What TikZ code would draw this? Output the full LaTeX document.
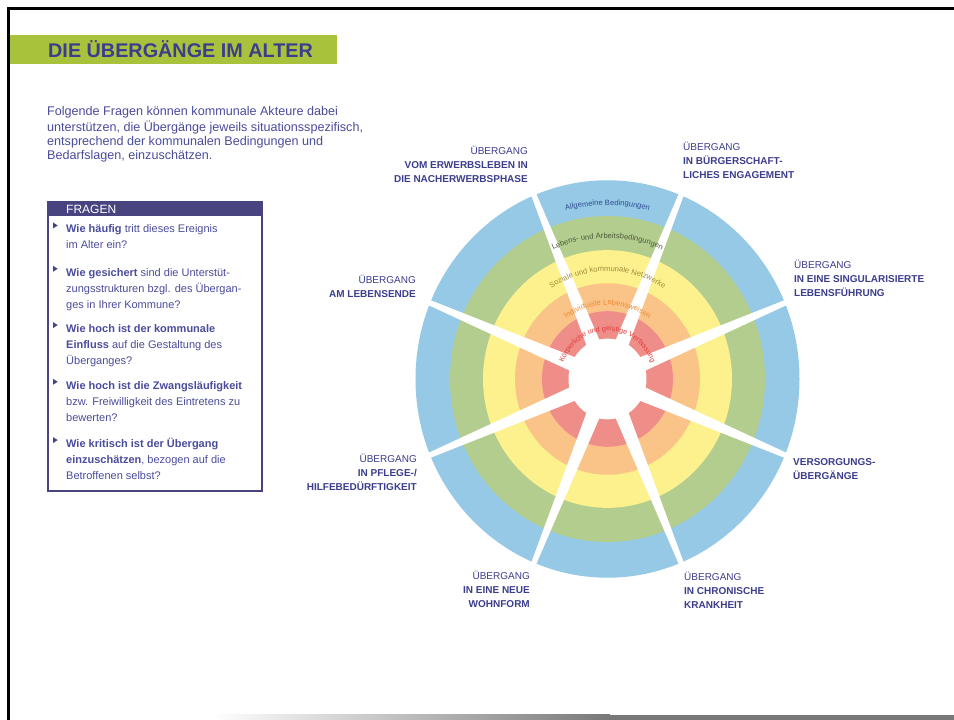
\documentclass[tikz,border=0pt]{standalone}
\usepackage{fontspec}
\setmainfont{Liberation Sans}
\usetikzlibrary{decorations.text}
\definecolor{ringblue}{HTML}{95C9E6}
\definecolor{ringgreen}{HTML}{B2CD8E}
\definecolor{ringyellow}{HTML}{FDF18D}
\definecolor{ringorange}{HTML}{FAC488}
\definecolor{ringred}{HTML}{EF8E88}
\definecolor{navy}{HTML}{3C3D8C}
\definecolor{bodyblue}{HTML}{4A4C9C}
\definecolor{boxpurple}{HTML}{48447F}
\definecolor{titlegreen}{HTML}{A9C23C}
\definecolor{tAllg}{HTML}{2F4B92}
\definecolor{tLeb}{HTML}{4F5A3A}
\definecolor{tSoz}{HTML}{A08C3A}
\definecolor{tInd}{HTML}{EE8A32}
\definecolor{tKoe}{HTML}{E03A3C}
\definecolor{bargray}{HTML}{787878}
\begin{document}
\begin{tikzpicture}[x=1pt,y=1pt,
  lblL/.style={anchor=north east, align=right, inner sep=0pt, text=navy, font=\fontsize{10}{14}\selectfont},
  lblR/.style={anchor=north west, align=left, inner sep=0pt, text=navy, font=\fontsize{10}{14}\selectfont},
  qitem/.style={anchor=north west, align=left, inner sep=0pt, text=bodyblue, font=\fontsize{11}{16}\selectfont},
  bullet/.style={fill=boxpurple},
  arctext/.style={decorate, decoration={text along path, text align=center, text={#1}}}]
\useasboundingbox (0,0) rectangle (954,720);
\fill[white] (0,0) rectangle (954,720);
% frame and bottom bar
\draw[line width=2.7pt] (954,711.3) -- (8.7,711.3) -- (8.7,0);
\shade[left color=white, right color=bargray] (213,0) rectangle (610,5);
\fill[bargray] (610,0) rectangle (954,5);
% title
\fill[titlegreen] (10,656) rectangle (337,685);
\node[anchor=base west, inner sep=0pt, text=navy, font=\fontsize{19.8}{24}\selectfont\bfseries] (title) at (48,662.7) {DIE ÜBERGÄNGE IM ALTER};
% intro
\node[anchor=north west, align=left, inner sep=0pt, text=bodyblue, font=\fontsize{12.6}{14.2}\selectfont] (intro) at (47,614.9)
 {\strut Folgende Fragen können kommunale Akteure dabei\\
  unterstützen, die Übergänge jeweils situationsspezifisch,\\
  entsprechend der kommunalen Bedingungen und\\
  Bedarfslagen, einzuschätzen.};
% question box
\draw[boxpurple, line width=1.5pt] (48,229) rectangle (262,518);
\fill[boxpurple] (48,504.3) rectangle (262,518);
\node[anchor=base west, inner sep=0pt, text=white, font=\fontsize{12}{14}\selectfont] (fragen) at (66,506) {FRAGEN};
\node[qitem] (q1) at (66,498.5) {\strut\textbf{Wie häufig} tritt dieses Ereignis\\im Alter ein?};
\node[qitem] (q2) at (66,455.2) {\strut\textbf{Wie gesichert} sind die Unterstüt-\\zungsstrukturen bzgl. des Übergan-\\ges in Ihrer Kommune?};
\node[qitem] (q3) at (66,398.9) {\strut\textbf{Wie hoch ist der kommunale}\\\textbf{Einfluss} auf die Gestaltung des\\Überganges?};
\node[qitem] (q4) at (66,342.2) {\strut\textbf{Wie hoch ist die Zwangsläufigkeit}\\bzw. Freiwilligkeit des Eintretens zu\\bewerten?};
\node[qitem] (q5) at (66,283.9) {\strut\textbf{Wie kritisch ist der Übergang}\\\textbf{einzuschätzen}, bezogen auf die\\Betroffenen selbst?};
\foreach \yb in {232.7,276,332.3,389,447.3}{
  \fill[bullet] (53,{720-\yb+10.2}) -- (53,{720-\yb+4.2}) -- (57.7,{720-\yb+7.2}) -- cycle;
}
% wheel
\begin{scope}[shift={(607.5,341)}, yscale=1.035]
  \fill[ringblue] (0,0) circle[radius=192];
  \fill[ringgreen] (0,0) circle[radius=157.5];
  \fill[ringyellow] (0,0) circle[radius=124.5];
  \fill[ringorange] (0,0) circle[radius=92.5];
  \fill[ringred] (0,0) circle[radius=65.5];
  \fill[white] (0,0) circle[radius=39];
  \foreach \a in {22.5,67.5,...,337.5}{
    \fill[white, rotate=\a] (30,-7.2) -- (200,-2.4) -- (200,2.4) -- (30,7.2) -- cycle;
  }
  \path[arctext={|\fontsize{7.6}{9}\selectfont\color{tAllg}|Allgemeine Bedingungen}] (170:168) arc[start angle=170, end angle=10, radius=168];
  \path[arctext={|\fontsize{7.6}{9}\selectfont\color{tLeb}|Lebens- und Arbeitsbedingungen}] (170:136) arc[start angle=170, end angle=10, radius=136];
  \path[arctext={|\fontsize{7.6}{9}\selectfont\color{tSoz}|Soziale und kommunale Netzwerke}] (175:104) arc[start angle=175, end angle=5, radius=104];
  \path[arctext={|\fontsize{7.6}{9}\selectfont\color{tInd}|Individuelle Lebensweisen}] (178:71.5) arc[start angle=178, end angle=2, radius=71.5];
  \path[arctext={|\fontsize{7.2}{9}\selectfont\color{tKoe}|Körperliche und geistige Verfassung}] (195:46.5) arc[start angle=195, end angle=-15, radius=46.5];
\end{scope}
% labels
\node[lblL] (erwerb) at (528,575.2) {\strut ÜBERGANG\\\textbf{VOM ERWERBSLEBEN IN}\\\textbf{DIE NACHERWERBSPHASE}};
\node[lblL] (ende) at (416,446.2) {\strut ÜBERGANG\\\textbf{AM LEBENSENDE}};
\node[lblL] (pflege) at (417,267.2) {\strut ÜBERGANG\\\textbf{IN PFLEGE-/}\\\textbf{HILFEBEDÜRFTIGKEIT}};
\node[lblL] (wohn) at (530,150.2) {\strut ÜBERGANG\\\textbf{IN EINE NEUE}\\\textbf{WOHNFORM}};
\node[lblR] (chron) at (684,149.2) {\strut ÜBERGANG\\\textbf{IN CHRONISCHE}\\\textbf{KRANKHEIT}};
\node[lblR] (versorg) at (793,264.2) {\strut\textbf{VERSORGUNGS-}\\\textbf{ÜBERGÄNGE}};
\node[lblR] (single) at (794,461.2) {\strut ÜBERGANG\\\textbf{IN EINE SINGULARISIERTE}\\\textbf{LEBENSFÜHRUNG}};
\node[lblR] (buerger) at (683,579.2) {\strut ÜBERGANG\\\textbf{IN BÜRGERSCHAFT-}\\\textbf{LICHES ENGAGEMENT}};
\end{tikzpicture}
\end{document}
